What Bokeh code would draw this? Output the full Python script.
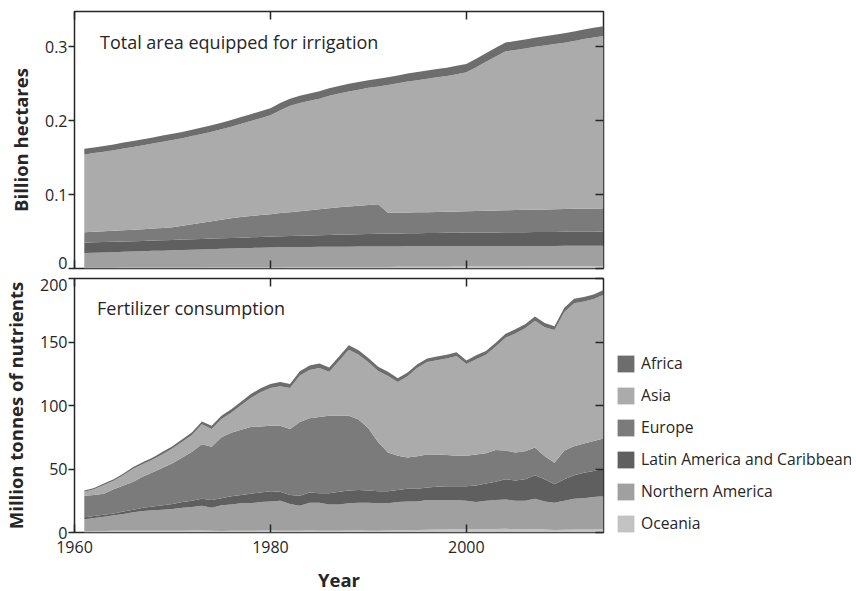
from bokeh.plotting import figure
from bokeh.models import (ColumnDataSource, Legend, LegendItem, LinearAxis,
                          FixedTicker, Label, Range1d)
from bokeh.layouts import column, row
from bokeh.embed import file_html
from bokeh.resources import INLINE

years = list(range(1961, 2015))

# ---- Total area equipped for irrigation (million hectares) ----
irr_oceania = [1.0, 1.0, 1.1, 1.1, 1.2, 1.2, 1.3, 1.3, 1.4, 1.4,
               1.5, 1.5, 1.5, 1.6, 1.6, 1.6, 1.7, 1.7, 1.8, 1.8,
               1.8, 1.9, 1.9, 1.9, 2.0, 2.0, 2.0, 2.1, 2.1, 2.1,
               2.2, 2.2, 2.3, 2.3, 2.4, 2.4, 2.5, 2.5, 2.6, 2.6,
               2.7, 2.7, 2.8, 2.8, 2.8, 2.9, 2.9, 2.9, 3.0, 3.0,
               3.0, 3.0, 3.0, 3.0]
irr_namerica = [20.0, 20.3, 20.7, 21.0, 21.4, 21.8, 22.0, 22.6, 22.8, 23.2,
                23.5, 24.0, 24.3, 24.6, 25.1, 25.4, 25.7, 26.2, 26.4, 26.8,
                27.0, 27.0, 27.2, 27.3, 27.3, 27.3, 27.5, 27.5, 27.6, 27.7,
                27.6, 27.7, 27.6, 27.7, 27.7, 27.7, 27.7, 27.7, 27.7, 27.7,
                27.6, 27.7, 27.6, 27.7, 27.7, 27.6, 27.7, 27.7, 27.6, 27.7,
                27.7, 27.7, 27.8, 27.8]
irr_latam = [14.0, 14.1, 14.0, 14.1, 14.0, 14.0, 14.1, 14.0, 14.1, 14.1,
             14.1, 14.1, 14.2, 14.3, 14.2, 14.4, 14.4, 14.4, 14.5, 14.6,
             14.8, 15.1, 15.3, 15.6, 15.8, 16.2, 16.4, 16.6, 16.8, 17.0,
             17.2, 17.3, 17.5, 17.6, 17.7, 17.9, 17.9, 18.1, 18.1, 18.3,
             18.4, 18.4, 18.5, 18.5, 18.6, 18.7, 18.7, 18.8, 18.9, 18.9,
             19.0, 19.1, 19.1, 19.2]
irr_europe = [14.0, 14.2, 14.5, 14.9, 15.2, 15.5, 15.9, 16.2, 16.6, 17.1,
              18.7, 20.2, 21.9, 23.4, 25.0, 26.6, 27.8, 28.7, 29.6, 30.4,
              31.4, 32.3, 33.2, 34.2, 35.2, 36.1, 37.1, 37.8, 38.5, 39.2,
              40.0, 28.3, 28.2, 28.2, 28.2, 28.3, 28.5, 28.6, 28.8, 28.9,
              29.2, 29.4, 29.6, 29.8, 30.0, 30.2, 30.4, 30.6, 30.8, 31.0,
              31.1, 31.2, 31.3, 31.4]
irr_asia = [105.5, 106.8, 107.9, 109.1, 110.7, 111.9, 113.6, 115.1, 116.7, 118.3,
            118.6, 119.6, 120.3, 121.2, 122.7, 123.9, 126.3, 128.7, 131.3, 134.0,
            139.4, 144.1, 146.6, 148.2, 149.7, 152.3, 153.9, 155.7, 157.2, 158.6,
            159.4, 172.9, 175.1, 177.4, 179.0, 180.7, 182.2, 183.9, 185.9, 188.1,
            194.5, 201.7, 208.7, 215.3, 216.9, 218.4, 220.5, 222.1, 223.7, 225.2,
            227.4, 229.6, 231.7, 233.4]
irr_africa = [7.5, 7.6, 7.8, 7.8, 8.0, 8.1, 8.1, 8.3, 8.4, 8.4,
              8.6, 8.6, 8.8, 8.9, 8.9, 9.1, 9.1, 9.3, 9.4, 9.4,
              9.6, 9.6, 9.8, 9.8, 10.0, 10.1, 10.1, 10.3, 10.3, 10.4,
              10.6, 10.6, 10.8, 10.8, 11.0, 11.0, 11.2, 11.2, 11.4, 11.4,
              11.6, 11.6, 11.8, 11.9, 12.0, 12.2, 12.3, 12.4, 12.5, 12.7,
              12.8, 12.9, 13.1, 13.2]

# ---- Fertilizer consumption (million tonnes of nutrients) ----
fer_oceania = [1.0, 1.1, 1.2, 1.3, 1.3, 1.4, 1.4, 1.4, 1.3, 1.4,
               1.4, 1.5, 1.6, 1.4, 1.2, 1.3, 1.4, 1.4, 1.5, 1.5,
               1.4, 1.3, 1.4, 1.5, 1.4, 1.3, 1.4, 1.5, 1.5, 1.4,
               1.4, 1.5, 1.7, 1.9, 2.0, 2.2, 2.3, 2.4, 2.5, 2.6,
               2.7, 2.8, 2.8, 2.9, 2.7, 2.6, 2.8, 2.3, 1.9, 2.2,
               2.3, 2.4, 2.4, 2.5]
fer_namerica = [9.5, 10.4, 11.3, 12.2, 13.2, 14.6, 15.6, 16.1, 16.7, 17.1,
                18.1, 18.5, 19.4, 18.1, 20.3, 20.7, 21.6, 21.6, 22.5, 23.0,
                23.6, 21.2, 19.6, 22.0, 22.1, 20.7, 20.6, 21.5, 22.0, 22.1,
                21.6, 21.5, 22.3, 22.6, 22.5, 23.3, 23.2, 23.1, 23.0, 22.4,
                21.3, 22.2, 22.7, 23.1, 22.3, 22.4, 23.7, 22.2, 21.6, 22.8,
                24.2, 24.6, 25.6, 26.0]
fer_latam = [1.5, 1.5, 1.5, 1.5, 2.0, 2.0, 2.5, 3.0, 3.5, 4.0,
             4.5, 5.0, 5.5, 6.0, 5.5, 6.5, 6.5, 7.5, 7.5, 8.0,
             7.0, 7.0, 8.0, 8.0, 7.5, 9.0, 10.0, 10.0, 10.0, 9.5,
             9.5, 9.5, 9.5, 10.0, 10.0, 10.0, 10.5, 11.0, 11.0, 11.5,
             13.0, 13.5, 14.5, 16.0, 16.0, 17.0, 18.5, 17.5, 14.5, 17.0,
             18.5, 20.0, 20.5, 21.5]
fer_europe = [17.0, 16.5, 16.5, 19.0, 20.5, 22.0, 24.5, 27.0, 29.5, 32.0,
              35.0, 38.5, 43.0, 42.0, 48.0, 50.0, 51.5, 52.5, 52.0, 51.5,
              52.0, 52.0, 58.0, 58.5, 60.0, 61.0, 60.0, 59.0, 55.5, 49.0,
              38.5, 30.5, 27.0, 24.5, 25.5, 26.0, 25.5, 24.5, 24.0, 24.0,
              24.5, 24.0, 25.0, 22.5, 22.0, 22.0, 22.0, 18.0, 17.0, 22.5,
              23.0, 23.0, 23.5, 24.0]
fer_asia = [3.1, 4.5, 6.9, 6.8, 8.2, 10.1, 10.0, 9.9, 10.7, 11.6,
            12.5, 13.3, 15.7, 14.0, 14.4, 15.8, 19.1, 23.0, 26.9, 29.8,
            31.2, 32.2, 36.6, 38.0, 38.6, 34.5, 43.0, 51.9, 50.9, 52.0,
            56.2, 60.3, 58.0, 64.1, 69.7, 72.7, 74.1, 76.0, 78.5, 72.1,
            75.0, 77.5, 81.4, 88.8, 93.7, 96.8, 99.7, 101.7, 104.5, 109.1,
            112.5, 111.9, 111.8, 113.2]
fer_africa = [0.9, 1.0, 1.1, 1.2, 1.3, 1.4, 1.5, 1.6, 1.8, 1.9,
              2.0, 2.2, 2.3, 2.5, 2.6, 2.7, 2.9, 3.0, 3.1, 3.2,
              3.3, 3.3, 3.4, 3.5, 3.4, 3.5, 3.5, 3.6, 3.6, 3.5,
              3.3, 3.2, 3.0, 2.9, 2.8, 2.8, 2.9, 3.0, 3.0, 2.9,
              3.0, 3.0, 3.1, 3.2, 3.3, 3.2, 3.3, 3.3, 3.0, 3.4,
              3.5, 3.6, 3.7, 3.8]

# stacking order bottom -> top
stack_keys = ["oce", "nam", "lat", "eur", "asi", "afr"]
labels = {"afr": "Africa", "asi": "Asia", "eur": "Europe",
          "lat": "Latin America and Caribbean", "nam": "Northern America",
          "oce": "Oceania"}
colors = {"afr": "#6d6d6d", "asi": "#ababab", "eur": "#7b7b7b",
          "lat": "#5f5f5f", "nam": "#a0a0a0", "oce": "#c3c3c3"}
legend_order = ["afr", "asi", "eur", "lat", "nam", "oce"]

x_ticks = [1960, 1980, 2000]
irr_ticks = [0, 0.1, 0.2, 0.3]
irr_tick_labels = ["0", "0.1", "0.2", "0.3"]
fer_ticks = [0, 50, 100, 150, 200]
fer_tick_labels = ["0", "50", "100", "150", "200"]

FONT = "Open Sans"
TXT = "#262626"
FRAME = "#262626"

irr_src = ColumnDataSource(dict(
    year=years,
    oce=[v / 1000 for v in irr_oceania], nam=[v / 1000 for v in irr_namerica],
    lat=[v / 1000 for v in irr_latam], eur=[v / 1000 for v in irr_europe],
    asi=[v / 1000 for v in irr_asia], afr=[v / 1000 for v in irr_africa]))
fer_src = ColumnDataSource(dict(
    year=years, oce=fer_oceania, nam=fer_namerica, lat=fer_latam,
    eur=fer_europe, asi=fer_asia, afr=fer_africa))


def make_fig(y_max, frame_h, top_border, bottom_border, right_border):
    p = figure(x_range=Range1d(1960, 2014), y_range=Range1d(0, y_max),
               frame_width=529, frame_height=frame_h,
               min_border_left=74, min_border_right=right_border,
               min_border_top=top_border, min_border_bottom=bottom_border,
               output_backend="svg", toolbar_location=None,
               x_axis_location=None, y_axis_location=None)
    p.grid.visible = False
    p.outline_line_color = FRAME
    p.outline_line_width = 1.5
    p.background_fill_color = "white"
    p.border_fill_color = "white"
    return p


def new_axis(ticks, tick_in, tick_out, overrides=None, blank=False):
    ax = LinearAxis(ticker=FixedTicker(ticks=ticks))
    ax.axis_line_color = None
    ax.major_tick_in = tick_in
    ax.major_tick_out = tick_out
    ax.major_tick_line_color = FRAME if (tick_in or tick_out) else None
    ax.major_tick_line_width = 1.5
    ax.minor_tick_line_color = None
    ax.major_label_text_font = FONT
    ax.major_label_text_font_size = "16px"
    ax.major_label_text_color = TXT
    ax.axis_label_text_font = FONT
    ax.axis_label_text_font_size = "18.5px"
    ax.axis_label_text_font_style = "bold"
    ax.axis_label_text_color = TXT
    if blank:
        ax.major_label_overrides = {t: "" for t in ticks}
        ax.major_label_standoff = 0
    elif overrides:
        ax.major_label_overrides = overrides
    return ax


def build_panel(p, yticks, ytick_labels, label_shift, ylabel, show_x):
    xb = new_axis(x_ticks, 8, 0, blank=not show_x)
    p.add_layout(xb, "below")
    p.add_layout(new_axis(x_ticks, 8, 0, blank=True), "above")
    p.add_layout(new_axis(yticks, 0, 6, blank=True), "left")
    label_pos = [t + label_shift.get(i, 0) for i, t in enumerate(yticks)]
    yl = new_axis(label_pos, 0, 0,
                  overrides={pos: txt for pos, txt in zip(label_pos, ytick_labels)})
    yl.major_label_standoff = 1
    yl.axis_label = ylabel
    yl.axis_label_standoff = 9
    p.add_layout(yl, "left")
    p.add_layout(new_axis(yticks, 8, 0, blank=True), "right")
    return xb


# ---------------- top panel ----------------
p1 = make_fig(0.348, 257, 11, 5, 6)
p1.varea_stack(stackers=stack_keys, x="year", source=irr_src,
               color=[colors[k] for k in stack_keys])
build_panel(p1, irr_ticks, irr_tick_labels, {0: 0.0075}, "Billion hectares", False)
p1.add_layout(Label(x=1962.6, y=0.307, text="Total area equipped for irrigation",
                    text_font=FONT, text_font_size="18px", text_color=TXT,
                    text_baseline="middle"))

# ---------------- bottom panel ----------------
p2 = make_fig(200, 254, 5, 58, 4)
p2.varea_stack(stackers=stack_keys, x="year", source=fer_src,
               color=[colors[k] for k in stack_keys])
xb2 = build_panel(p2, fer_ticks, fer_tick_labels, {4: -5.5},
                  "Million tonnes of nutrients", True)
xb2.major_label_standoff = 8
xb2.axis_label = "Year"
xb2.axis_label_standoff = 11
p2.add_layout(Label(x=1962.3, y=177, text="Fertilizer consumption",
                    text_font=FONT, text_font_size="18px", text_color=TXT,
                    text_baseline="middle"))

# ---------------- legend (separate, axis-less canvas beside the bottom panel) ----------------
pl = figure(x_range=Range1d(0, 1), y_range=Range1d(0, 1),
            frame_width=244, frame_height=256,
            min_border_left=0, min_border_right=0,
            min_border_top=5, min_border_bottom=56,
            output_backend="svg", toolbar_location=None,
            x_axis_location=None, y_axis_location=None)
pl.grid.visible = False
pl.outline_line_color = None
pl.background_fill_color = "white"
pl.border_fill_color = "white"
rl = pl.varea_stack(stackers=stack_keys, x="year", source=fer_src,
                    color=[colors[k] for k in stack_keys])
rmap = dict(zip(stack_keys, rl))
legend = Legend(items=[LegendItem(label=labels[k], renderers=[rmap[k]]) for k in legend_order],
                location=(8, 0), orientation="vertical",
                glyph_width=21, glyph_height=21, label_height=17, spacing=10,
                padding=0, margin=0, label_standoff=5,
                border_line_color=None, background_fill_alpha=0,
                label_text_font=FONT, label_text_font_size="15.7px",
                label_text_color=TXT)
pl.add_layout(legend, "center")

layout = column(p1, row(p2, pl))
open("out.html", "w").write(file_html(layout, INLINE))
